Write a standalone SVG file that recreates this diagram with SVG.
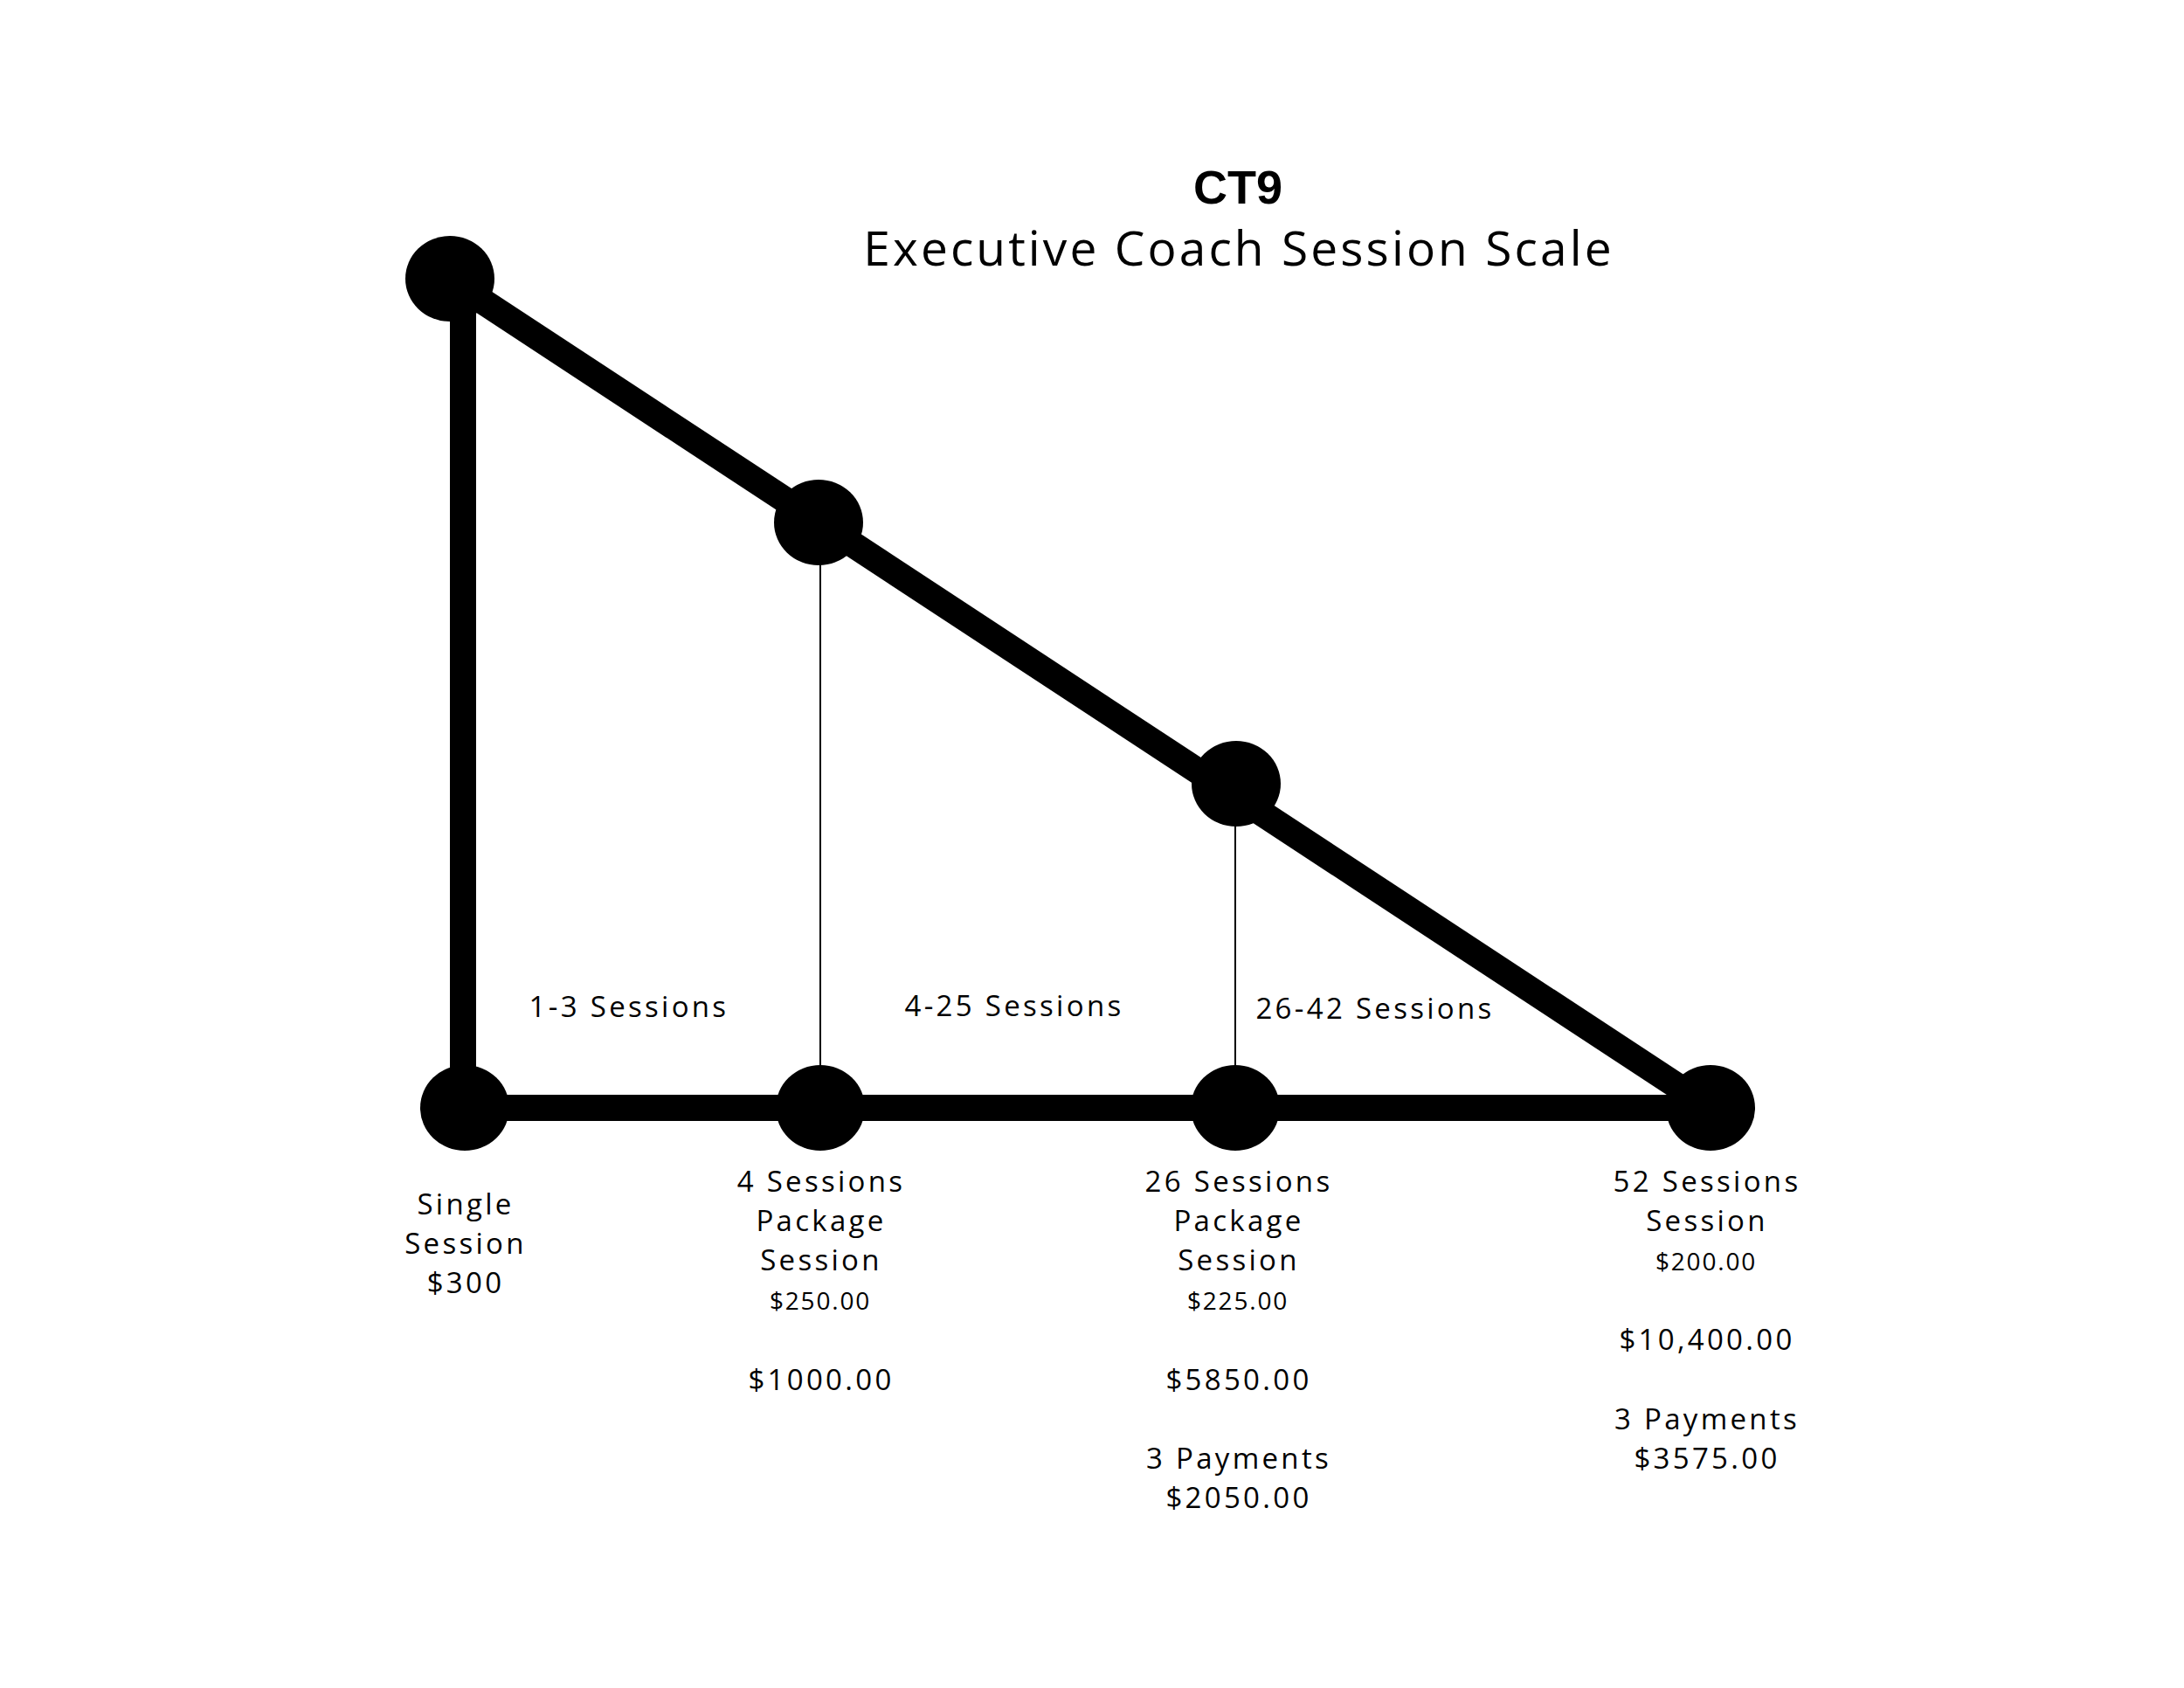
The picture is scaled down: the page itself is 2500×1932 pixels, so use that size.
<svg xmlns="http://www.w3.org/2000/svg" width="2500" height="1932" viewBox="0 0 2500 1932">
<style>
text{font-family:"Open Sans","Liberation Sans",sans-serif;fill:#000;text-anchor:middle}
.t1{font-family:"Liberation Sans",Arial,sans-serif;font-size:54px;font-weight:700}
.t2{font-size:55px;letter-spacing:3.1px}
.m{font-size:33px;letter-spacing:3.3px}
.s{font-size:28px;letter-spacing:1.8px}
.thick{stroke:#000;fill:none;stroke-width:30}
.thin{stroke:#000;fill:none;stroke-width:2}
.dot{fill:#000}
</style>
<rect width="2500" height="1932" fill="#fff"/>
<g id="title">
<text class="t1" x="1417" y="233">CT9</text>
<text class="t2" x="1418" y="304">Executive Coach Session Scale</text>
</g>
<g id="connectors">
<line class="thick" x1="530" y1="319" x2="530" y2="1268"/>
<line class="thick" x1="530" y1="330" x2="1958" y2="1268" stroke-width="31"/>
<line class="thick" x1="532" y1="1268" x2="1958" y2="1268" stroke-width="29"/>
<line class="thin" x1="939" y1="598" x2="939" y2="1268"/>
<line class="thin" x1="1414" y1="897" x2="1414" y2="1268"/>
</g>
<g id="node-top-1"><ellipse class="dot" cx="515" cy="319" rx="51" ry="49"/></g>
<g id="node-top-2"><ellipse class="dot" cx="937" cy="598" rx="51" ry="49"/></g>
<g id="node-top-3"><ellipse class="dot" cx="1415" cy="897" rx="51" ry="49"/></g>
<g id="node-single">
<ellipse class="dot" cx="532" cy="1268" rx="51" ry="49"/>
<text class="m" x="533" y="1390">Single</text>
<text class="m" x="533" y="1435">Session</text>
<text class="m" x="533" y="1480">$300</text>
</g>
<g id="node-4">
<ellipse class="dot" cx="939" cy="1268" rx="51" ry="49"/>
<text class="m" x="940" y="1364">4 Sessions</text>
<text class="m" x="940" y="1409">Package</text>
<text class="m" x="940" y="1454">Session</text>
<text class="s" x="939" y="1499">$250.00</text>
<text class="m" x="940" y="1591">$1000.00</text>
</g>
<g id="node-26">
<ellipse class="dot" cx="1414" cy="1268" rx="51" ry="49"/>
<text class="m" x="1418" y="1364">26 Sessions</text>
<text class="m" x="1418" y="1409">Package</text>
<text class="m" x="1418" y="1454">Session</text>
<text class="s" x="1417" y="1499">$225.00</text>
<text class="m" x="1418" y="1591">$5850.00</text>
<text class="m" x="1418" y="1681">3 Payments</text>
<text class="m" x="1418" y="1726">$2050.00</text>
</g>
<g id="node-52">
<ellipse class="dot" cx="1958" cy="1268" rx="51" ry="49"/>
<text class="m" x="1954" y="1364">52 Sessions</text>
<text class="m" x="1954" y="1409">Session</text>
<text class="s" x="1953" y="1454">$200.00</text>
<text class="m" x="1954" y="1545">$10,400.00</text>
<text class="m" x="1954" y="1636">3 Payments</text>
<text class="m" x="1954" y="1681">$3575.00</text>
</g>
<g id="ranges">
<text class="m" x="720" y="1164">1-3 Sessions</text>
<text class="m" x="1161" y="1163">4-25 Sessions</text>
<text class="m" x="1574" y="1166">26-42 Sessions</text>
</g>
</svg>
